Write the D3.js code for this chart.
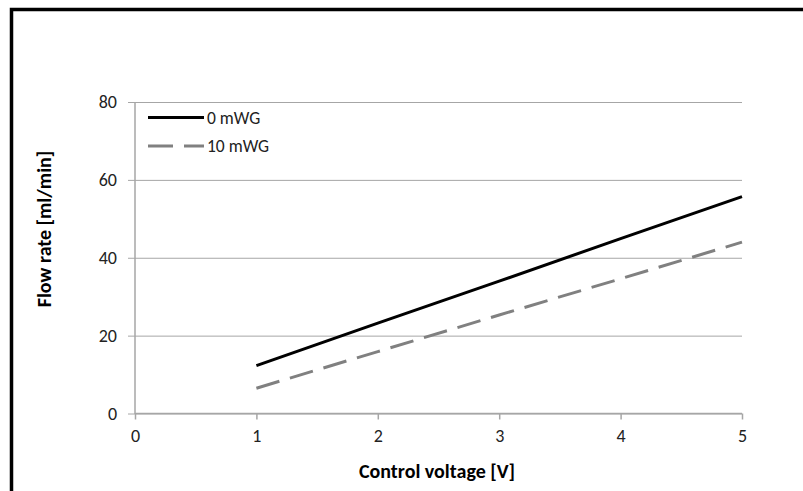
<!DOCTYPE html>
<html><head><meta charset="utf-8">
<script src="https://cdn.jsdelivr.net/npm/d3@7"></script>
<style>html,body{margin:0;padding:0;background:#fff;}svg{display:block;}</style>
</head><body>
<svg id="c" width="803" height="491"></svg>
<script>
const voltage = [1, 2, 3, 4, 5];
const flow0mWG = [12.3, 23.2, 34.0, 44.9, 55.7];
const flow10mWG = [6.5, 15.9, 25.3, 34.6, 44.0];
const seriesNames = ["0 mWG", "10 mWG"];
const xTicks = [0, 1, 2, 3, 4, 5];
const yTicks = [0, 20, 40, 60, 80];
const xTitle = "Control voltage [V]";
const yTitle = "Flow rate [ml/min]";

const svg = d3.select("#c");
const font = "Carlito, 'Open Sans', 'Noto Sans', sans-serif";
// frame
svg.append("path").attr("d","M11.5,491 V9.5 H803").attr("fill","none").attr("stroke","#000").attr("stroke-width",3.5);

const x = d3.scaleLinear().domain([0,5]).range([135,742]);
const y = d3.scaleLinear().domain([0,80]).range([413.5,102]);

// gridlines + y ticks
const yAxis = d3.axisLeft(y).tickValues(yTicks).tickSize(-(742-128)).tickPadding(11).tickFormat(d3.format("d"));
const gy = svg.append("g").attr("transform","translate(128,0)").call(yAxis);
gy.select(".domain").remove();
gy.selectAll(".tick line").attr("stroke","#a6a6a6").attr("stroke-width",1);
gy.selectAll(".tick text").attr("font-family",font).attr("font-size",18).attr("fill","#222");
// y axis line
svg.append("line").attr("x1",135).attr("x2",135).attr("y1",y(80)).attr("y2",y(0)+0.5).attr("stroke","#a6a6a6").attr("stroke-width",1.5);

// x axis
const xAxis = d3.axisBottom(x).tickValues(xTicks).tickSize(6).tickPadding(10).tickFormat(d3.format("d"));
const gx = svg.append("g").attr("transform",`translate(0,${y(0)})`).call(xAxis);
gx.select(".domain").attr("stroke","#a6a6a6").attr("stroke-width",1.5).attr("d",`M${x(0)},0H${x(5)}`);
gx.selectAll(".tick line").attr("stroke","#a6a6a6").attr("stroke-width",1.5);
gx.selectAll(".tick text").attr("font-family",font).attr("font-size",18).attr("fill","#222");

// lines
const line = d3.line().x(d=>x(d[0])).y(d=>y(d[1]));
svg.append("path").datum(voltage.map((v,i)=>[v,flow10mWG[i]])).attr("d",line)
  .attr("fill","none").attr("stroke","#808080").attr("stroke-width",3).attr("stroke-dasharray","24,11");
svg.append("path").datum(voltage.map((v,i)=>[v,flow0mWG[i]])).attr("d",line)
  .attr("fill","none").attr("stroke","#000").attr("stroke-width",3);

// legend
const leg = svg.append("g");
const legY = [117.5, 146];
leg.append("line").attr("x1",148).attr("x2",204).attr("y1",legY[0]).attr("y2",legY[0]).attr("stroke","#000").attr("stroke-width",3);
leg.append("line").attr("x1",148).attr("x2",204).attr("y1",legY[1]).attr("y2",legY[1]).attr("stroke","#808080").attr("stroke-width",3).attr("stroke-dasharray","25,11");
seriesNames.forEach((n,i)=>{
  leg.append("text").attr("x",207).attr("y",legY[i]).attr("dy","0.35em").attr("font-family",font).attr("font-size",17.5).attr("fill","#222").text(n);
});

// titles
svg.append("text").attr("x",437).attr("y",471).attr("dy","0.35em").attr("text-anchor","middle")
  .attr("font-family",font).attr("font-size",20).attr("font-weight","bold").attr("fill","#000").text(xTitle);
svg.append("text").attr("transform","translate(44,229) rotate(-90)").attr("dy","0.35em").attr("text-anchor","middle")
  .attr("font-family",font).attr("font-size",20).attr("font-weight","bold").attr("fill","#000").text(yTitle);
</script>
</body></html>
